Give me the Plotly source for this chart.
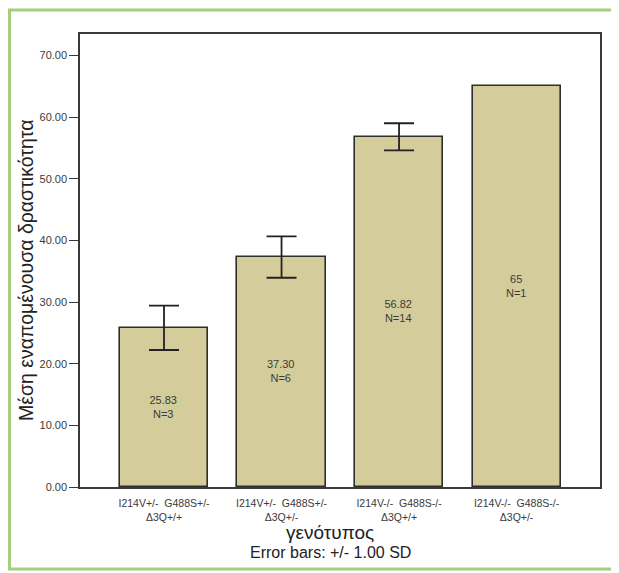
import plotly.graph_objects as go

categories = [
    "I214V+/-  G488S+/-<br>Δ3Q+/+",
    "I214V+/-  G488S+/-<br>Δ3Q+/-",
    "I214V-/-  G488S-/-<br>Δ3Q+/+",
    "I214V-/-  G488S-/-<br>Δ3Q+/-",
]
means = [25.83, 37.30, 56.82, 65]
mean_labels = ["25.83", "37.30", "56.82", "65"]
sd = [3.6, 3.35, 2.2]          # only groups with N > 1 have an SD
n_values = [3, 6, 14, 1]
y_ticks = [0, 10, 20, 30, 40, 50, 60, 70]

OFF = 8  # page body margin
W, H = 619 - OFF, 573 - OFF
L, R, T, B = 72, 19, 26, 86
pw, ph = W - L - R, H - T - B


def px(x):
    return (x - OFF - L) / pw


def py(y):
    return (H - B - (y - OFF)) / ph


bar_text = [f"{m}<br>N={n}" for m, n in zip(mean_labels, n_values)]

fig = go.Figure()
fig.add_trace(go.Bar(
    x=categories,
    y=means,
    width=0.75,
    marker=dict(color="#d4cd9b", line=dict(color="#2e2e2a", width=1.6)),
    text=bar_text,
    textposition="inside",
    insidetextanchor="middle",
    textangle=0,
    textfont=dict(family="Liberation Sans, Arial, sans-serif", size=11, color="#3a3a3a"),
    hoverinfo="skip",
))
fig.add_trace(go.Scatter(
    x=categories[:len(sd)],
    y=means[:len(sd)],
    mode="markers",
    marker=dict(size=1, color="rgba(0,0,0,0)"),
    error_y=dict(type="data", array=sd, visible=True, color="#222222",
                 thickness=1.8, width=15),
    hoverinfo="skip",
))

fig.update_layout(
    width=W, height=H,
    margin=dict(l=L, r=R, t=T, b=B, pad=0),
    paper_bgcolor="white",
    plot_bgcolor="white",
    showlegend=False,
    bargap=0,
    font=dict(family="Liberation Sans, Arial, sans-serif", color="#333333"),
    uniformtext=dict(minsize=11, mode="show"),
)
fig.update_xaxes(
    type="category",
    range=[-0.715, 3.71],
    showline=True, mirror=True, linecolor="#3a3a3a", linewidth=1.5,
    ticks="", showgrid=False, zeroline=False,
    ticklabelstandoff=6,
    tickfont=dict(size=10.5, color="#3a3a3a"),
)
fig.update_yaxes(
    range=[0, 73.5],
    tickvals=y_ticks,
    tickformat=".2f",
    showline=True, mirror=True, linecolor="#3a3a3a", linewidth=1.5,
    ticks="outside", ticklen=9, tickwidth=1.3, tickcolor="#3a3a3a",
    showgrid=False, zeroline=False,
    tickfont=dict(size=11, color="#3a3a3a"),
)

# axis titles as annotations
fig.add_annotation(
    xref="paper", yref="paper", x=px(26), y=py(270),
    xanchor="center", yanchor="middle",
    text="Μέση εναπομένουσα δραστικότητα", textangle=-90,
    showarrow=False, font=dict(size=19.5, color="#222222"),
)
fig.add_annotation(
    xref="paper", yref="paper", x=px(330), y=py(532),
    xanchor="center", yanchor="middle",
    text="γενότυπος", showarrow=False,
    font=dict(size=19, color="#222222"),
)
fig.add_annotation(
    xref="paper", yref="paper", x=px(330), y=py(552),
    xanchor="center", yanchor="middle",
    text="Error bars: +/- 1.00 SD", showarrow=False,
    font=dict(size=16, color="#222222"),
)

# green outer frame
fig.add_shape(
    type="rect", xref="paper", yref="paper",
    x0=px(9.5), x1=px(616), y0=py(569), y1=py(10),
    line=dict(color="#a6cf7c", width=3), fillcolor="rgba(0,0,0,0)",
    layer="below",
)

fig.write_html("out.html")
